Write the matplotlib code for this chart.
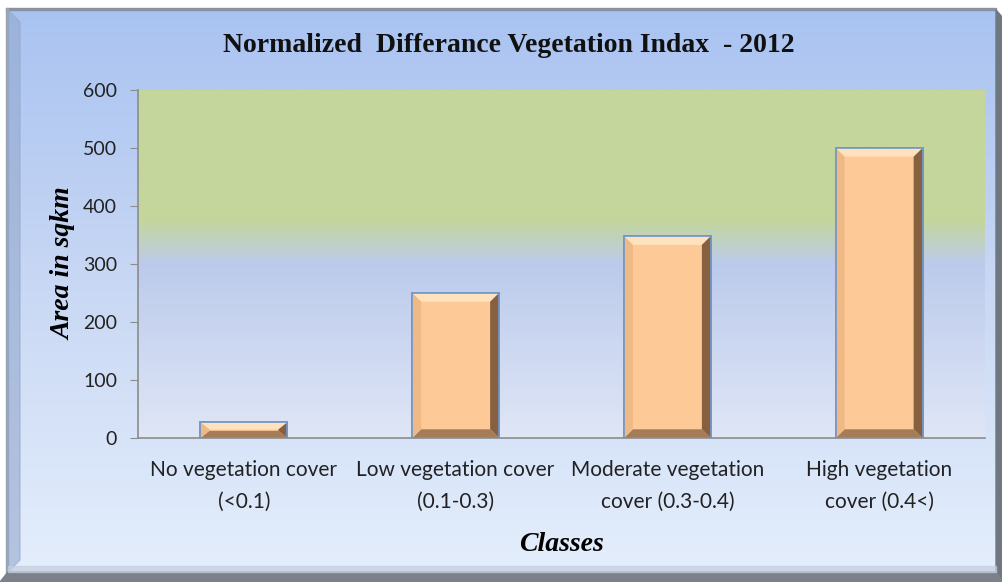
import numpy as np
import matplotlib.pyplot as plt
from matplotlib.patches import Polygon, Rectangle
from matplotlib.colors import LinearSegmentedColormap

# chart data
classes = ['No vegetation cover\n(<0.1)', 'Low vegetation cover\n(0.1-0.3)',
           'Moderate vegetation\ncover (0.3-0.4)', 'High vegetation\ncover (0.4<)']
area_sqkm = [27, 250, 348, 500]
y_ticks = [0, 100, 200, 300, 400, 500, 600]

W, H, DPI = 1003, 582, 100
fig = plt.figure(figsize=(W / DPI, H / DPI), dpi=DPI)
fig.patch.set_facecolor('white')

# figure background: framed blue gradient
bg = fig.add_axes([0, 0, 1, 1], zorder=-10)
bg.set_xlim(0, W)
bg.set_ylim(H, 0)
bg.axis('off')
bg_cmap = LinearSegmentedColormap.from_list('bg', ['#a9c3f1', '#c9d8f4', '#e4eefc'])
grad = np.linspace(0, 1, 256).reshape(-1, 1)
bg.imshow(grad, cmap=bg_cmap, extent=[8, 996, 572, 9], aspect='auto')
# frame edges
bg.add_patch(Rectangle((6, 8), 990, 2, color='#8a929e'))
bg.add_patch(Rectangle((6, 8), 2, 566, color='#9aa3b0'))
bg.add_patch(Polygon([[8, 10], [20, 22], [20, 560], [8, 572]], closed=True, color='#93a8cc', alpha=0.6))
bg.add_patch(Polygon([[996, 10], [1003, 18], [1003, 582], [996, 574]], closed=True, color='#6f7780'))
bg.add_patch(Polygon([[8, 572], [996, 572], [1003, 582], [0, 582]], closed=True, color='#7b8089'))
bg.add_patch(Rectangle((8, 566), 988, 6, color='#c3cede', alpha=0.7))

# plot area
ax = fig.add_axes([138 / W, 1 - 438 / H, (985 - 138) / W, (438 - 90) / H])
ax.set_xlim(-0.5, len(classes) - 0.5)
ax.set_ylim(0, 600)
plot_cmap = LinearSegmentedColormap.from_list(
    'plot', [(0.0, '#c4d69b'), (0.37, '#c4d69b'), (0.50, '#bccbec'), (1.0, '#dfe6f6')])
ax.imshow(grad, cmap=plot_cmap, extent=[-0.5, len(classes) - 0.5, 0, 600],
          aspect='auto', zorder=0)
ax.patch.set_alpha(0)

x = np.arange(len(classes))
bar_w = 0.41
bars = ax.bar(x, area_sqkm, width=bar_w, color='#fdca97', edgecolor='#7097cc',
              linewidth=1.2, zorder=2)

# bevel faces on each bar
bx, by = 0.042, 15.0
for b in bars:
    x0, x1 = b.get_x(), b.get_x() + b.get_width()
    h = b.get_height()
    dy = min(by, h / 2.2)
    dx = bx
    faces = [
        ([[x0, h], [x1, h], [x1 - dx, h - dy], [x0 + dx, h - dy]], '#fee2bd'),
        ([[x1, 0], [x1, h], [x1 - dx, h - dy], [x1 - dx, dy]], '#86603f'),
        ([[x0, 0], [x1, 0], [x1 - dx, dy], [x0 + dx, dy]], '#a57c58'),
        ([[x0, 0], [x0, h], [x0 + dx, h - dy], [x0 + dx, dy]], '#efb985'),
    ]
    for pts, c in faces:
        ax.add_patch(Polygon(pts, closed=True, color=c, zorder=3, linewidth=0))
    ax.add_patch(Rectangle((x0, 0), x1 - x0, h, fill=False, edgecolor='#7097cc',
                           linewidth=1.2, zorder=4))

for s in ['top', 'right']:
    ax.spines[s].set_visible(False)
for s in ['left', 'bottom']:
    ax.spines[s].set_color('#8c8c8c')
    ax.spines[s].set_linewidth(1.2)
    ax.spines[s].set_zorder(5)

ax.set_yticks(y_ticks)
ax.set_yticklabels([str(v) for v in y_ticks], fontsize=14, family='Lato', color='#222222')
ax.tick_params(axis='y', length=6, color='#8c8c8c', pad=9)
ax.set_xticks(x)
ax.set_xticklabels(classes, fontsize=15, family='Lato', color='#222222', linespacing=1.75)
ax.tick_params(axis='x', length=0, pad=16)

ax.set_ylabel('Area in sqkm', fontsize=20, family='Liberation Serif', style='italic',
              fontweight='bold', labelpad=5)
ax.set_xlabel('Classes', fontsize=20, family='Liberation Serif', style='italic',
              fontweight='bold', labelpad=14)

fig.text(509 / W, 1 - 45 / H, 'Normalized  Differance Vegetation Indax  - 2012',
         ha='center', va='center', fontsize=20, family='Liberation Serif',
         fontweight='bold', color='#111111')

fig.savefig('out.png', dpi=DPI)
